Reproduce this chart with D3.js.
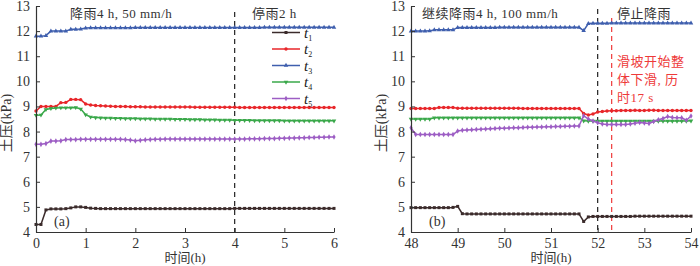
<!DOCTYPE html>
<html>
<head>
<meta charset="utf-8">
<script src="https://cdn.jsdelivr.net/npm/d3@7"></script>
<style>
  body { margin: 0; background: #fff; }
  svg text { font-family: "Liberation Serif", "Noto Sans CJK SC", serif; }
</style>
</head>
<body>
<svg id="chart"></svg>
<script>
// series names, colours of the picture
const seriesNames = ['1', '2', '3', '4', '5']
const seriesColors = ['#3b2b2b', '#e8262a', '#3f5fae', '#3aa84a', '#9d5ec4']

// panel (a): 0..6 h, read every 0.1 h
const timesA = d3.range(61).map(i => +(i * 0.1).toFixed(1))
const a_t1 = [4.30,4.30,4.88,4.92,4.92,4.92,4.93,4.96,5.00,5.00,
  4.98,4.95,4.94,4.93,4.93,4.93,4.93,4.93,4.93,4.93,
  4.93,4.93,4.93,4.93,4.93,4.93,4.93,4.93,4.93,4.93,
  4.93,4.93,4.93,4.93,4.93,4.93,4.93,4.93,4.93,4.93,
  4.94,4.94,4.94,4.94,4.94,4.94,4.94,4.94,4.94,4.94,
  4.94,4.94,4.94,4.94,4.94,4.94,4.94,4.94,4.94,4.94,4.94]
const a_t2 = [8.82,9.00,9.00,9.00,9.00,9.15,9.16,9.28,9.28,9.27,
  9.10,9.06,9.04,9.03,9.02,9.01,9.00,9.00,9.00,8.99,
  8.99,8.99,8.98,8.98,8.98,8.98,8.98,8.98,8.98,8.98,
  8.98,8.98,8.97,8.97,8.97,8.97,8.97,8.97,8.97,8.97,
  8.97,8.96,8.96,8.96,8.96,8.96,8.96,8.96,8.96,8.96,
  8.96,8.96,8.96,8.96,8.96,8.96,8.96,8.96,8.96,8.96,8.96]
const a_t3 = [11.80,11.80,11.82,12.00,12.00,12.00,12.00,12.07,12.07,12.08,
  12.12,12.13,12.13,12.13,12.13,12.13,12.13,12.13,12.13,12.13,
  12.14,12.14,12.14,12.14,12.14,12.14,12.14,12.14,12.14,12.14,
  12.14,12.14,12.14,12.14,12.14,12.14,12.14,12.14,12.14,12.14,
  12.14,12.14,12.14,12.14,12.14,12.14,12.15,12.15,12.15,12.15,
  12.15,12.15,12.15,12.15,12.15,12.15,12.15,12.15,12.15,12.15,12.15]
const a_t4 = [8.65,8.66,8.88,8.92,8.94,8.95,8.95,8.95,8.96,8.90,
  8.67,8.58,8.56,8.55,8.54,8.54,8.53,8.53,8.52,8.52,
  8.52,8.51,8.51,8.51,8.50,8.50,8.50,8.50,8.49,8.49,
  8.49,8.48,8.48,8.48,8.47,8.47,8.47,8.46,8.46,8.46,
  8.45,8.45,8.45,8.45,8.44,8.44,8.44,8.44,8.44,8.44,
  8.43,8.43,8.43,8.43,8.43,8.43,8.43,8.43,8.43,8.43,8.43]
const a_t5 = [7.49,7.49,7.52,7.62,7.62,7.63,7.68,7.68,7.68,7.69,
  7.69,7.69,7.69,7.69,7.69,7.69,7.69,7.69,7.68,7.66,
  7.63,7.65,7.67,7.68,7.69,7.69,7.70,7.70,7.70,7.70,
  7.70,7.70,7.70,7.70,7.70,7.70,7.70,7.70,7.70,7.70,
  7.70,7.70,7.70,7.71,7.71,7.71,7.72,7.72,7.72,7.73,
  7.73,7.74,7.74,7.75,7.75,7.76,7.76,7.77,7.77,7.78,7.78]

// panel (b): 48..54 h, read every 0.1 h
const timesB = d3.range(61).map(i => +(48 + i * 0.1).toFixed(1))
const b_t1 = [4.97,4.97,4.97,4.97,4.97,4.97,4.97,4.97,4.97,4.98,
  5.02,4.73,4.72,4.72,4.72,4.72,4.72,4.72,4.72,4.72,
  4.72,4.72,4.72,4.72,4.72,4.72,4.72,4.72,4.72,4.72,
  4.72,4.72,4.72,4.72,4.72,4.72,4.72,4.42,4.60,4.62,
  4.62,4.62,4.62,4.62,4.62,4.62,4.62,4.62,4.63,4.63,
  4.63,4.63,4.63,4.63,4.63,4.63,4.63,4.63,4.63,4.63,4.63]
const b_t2 = [8.92,8.92,8.92,8.92,8.92,8.92,8.96,8.96,8.96,8.96,
  8.93,8.93,8.93,8.93,8.93,8.93,8.93,8.93,8.93,8.93,
  8.93,8.93,8.93,8.93,8.92,8.92,8.92,8.92,8.92,8.92,
  8.92,8.92,8.92,8.92,8.92,8.92,8.92,8.72,8.66,8.70,
  8.78,8.80,8.82,8.83,8.83,8.84,8.84,8.84,8.85,8.84,
  8.84,8.85,8.85,8.84,8.84,8.84,8.84,8.84,8.84,8.84,8.84]
const b_t3 = [12.00,12.00,12.00,12.00,12.01,12.05,12.05,12.05,12.05,12.05,
  12.14,12.14,12.14,12.14,12.14,12.14,12.14,12.14,12.14,12.15,
  12.15,12.15,12.15,12.15,12.15,12.15,12.15,12.15,12.15,12.15,
  12.15,12.15,12.15,12.15,12.15,12.15,12.15,12.02,12.30,12.31,
  12.31,12.31,12.31,12.32,12.32,12.32,12.32,12.32,12.32,12.32,
  12.32,12.32,12.32,12.32,12.32,12.32,12.32,12.32,12.32,12.32,12.32]
const b_t4 = [8.50,8.50,8.50,8.50,8.50,8.55,8.55,8.55,8.55,8.55,
  8.55,8.55,8.55,8.55,8.55,8.55,8.55,8.55,8.55,8.55,
  8.55,8.55,8.55,8.55,8.55,8.55,8.55,8.55,8.55,8.55,
  8.55,8.55,8.55,8.55,8.55,8.55,8.55,8.43,8.42,8.42,
  8.42,8.42,8.42,8.42,8.42,8.42,8.42,8.42,8.42,8.42,
  8.42,8.42,8.42,8.42,8.42,8.42,8.42,8.42,8.42,8.42,8.43]
const b_t5 = [8.15,7.88,7.88,7.88,7.88,7.88,7.88,7.88,7.88,7.88,
  8.02,8.05,8.06,8.07,8.08,8.09,8.10,8.11,8.12,8.13,
  8.13,8.14,8.15,8.15,8.16,8.17,8.17,8.18,8.18,8.19,
  8.19,8.20,8.20,8.21,8.21,8.22,8.22,8.63,8.50,8.42,
  8.35,8.30,8.28,8.28,8.28,8.28,8.28,8.30,8.33,8.36,
  8.34,8.32,8.40,8.47,8.52,8.60,8.56,8.55,8.55,8.45,8.62]

const yTicks = [4, 5, 6, 7, 8, 9, 10, 11, 12, 13]

const svg = d3.select('svg#chart').attr('width', 700).attr('height', 266)
svg.append('rect').attr('width', 700).attr('height', 266).attr('fill', '#fff')

const symbols = [d3.symbolSquare, d3.symbolCircle, d3.symbolTriangle, d3.symbolTriangle, d3.symbolDiamond]

function drawPanel(opts) {
  const x = d3.scaleLinear().domain(opts.xDomain).range([opts.left, opts.right])
  const y = d3.scaleLinear().domain([4, 13]).range([232, 6])
  const g = svg.append('g')

  // vertical dashed markers
  opts.vlines.forEach(v => {
    g.append('line')
      .attr('x1', x(v.at)).attr('x2', x(v.at))
      .attr('y1', v.top).attr('y2', y(4))
      .attr('stroke', v.color).attr('stroke-width', 1.2)
      .attr('stroke-dasharray', '5,4')
  })

  const line = d3.line().x(d => x(d[0])).y(d => y(d[1]))
  opts.series.forEach((vals, k) => {
    const pts = opts.times.map((t, i) => [t, vals[i]])
    g.append('path').datum(pts)
      .attr('d', line).attr('fill', 'none')
      .attr('stroke', seriesColors[k]).attr('stroke-width', 1.5)
    g.selectAll(null).data(pts).join('path')
      .attr('transform', d => `translate(${x(d[0])},${y(d[1])})` + (k === 3 ? ' rotate(180)' : ''))
      .attr('d', d3.symbol(symbols[k], 9))
      .attr('fill', seriesColors[k])
  })

  const xAxis = g.append('g').attr('transform', `translate(0,${y(4)})`)
    .call(d3.axisBottom(x).tickValues(opts.xTicks).tickFormat(d3.format('d')).tickSize(-4).tickSizeOuter(0).tickPadding(6))
  const yAxis = g.append('g').attr('transform', `translate(${opts.left},0)`)
    .call(d3.axisLeft(y).tickValues(yTicks).tickFormat(d3.format('d')).tickSize(-4).tickSizeOuter(0).tickPadding(6))
  ;[xAxis, yAxis].forEach(ax => {
    ax.select('.domain').attr('stroke', '#333').attr('stroke-width', 1.2)
    ax.selectAll('.tick line').attr('stroke', '#333').attr('stroke-width', 1)
    ax.selectAll('.tick text').attr('font-size', 14).attr('fill', '#333')
      .style('font-family', '"Liberation Serif", serif')
  })

  g.append('text')
    .attr('transform', `translate(${opts.left - 25},123) rotate(-90)`)
    .attr('text-anchor', 'middle').attr('font-size', 14).attr('fill', '#333')
    .text('土压(kPa)')
  g.append('text')
    .attr('x', (opts.left + opts.right) / 2).attr('y', 262)
    .attr('text-anchor', 'middle').attr('font-size', 13).attr('fill', '#333')
    .text('时间(h)')
  g.append('text')
    .attr('x', opts.left + 18).attr('y', 226)
    .attr('font-size', 14).attr('fill', '#333')
    .text(opts.tag)

  opts.notes.forEach(n => {
    g.append('text').attr('x', n.x).attr('y', n.y)
      .attr('font-size', 13).attr('fill', n.color || '#333')
      .attr('letter-spacing', 0.5)
      .text(n.text)
  })
}

drawPanel({
  xDomain: [0, 6], left: 36, right: 334, times: timesA,
  xTicks: [0, 1, 2, 3, 4, 5, 6], tag: '(a)',
  series: [a_t1, a_t2, a_t3, a_t4, a_t5],
  vlines: [{at: 4, top: 12, color: '#222'}],
  notes: [
    {x: 70, y: 18, text: '降雨4 h, 50 mm/h'},
    {x: 252, y: 18, text: '停雨2 h'}
  ]
})

drawPanel({
  xDomain: [48, 54], left: 411, right: 691, times: timesB,
  xTicks: [48, 49, 50, 51, 52, 53, 54], tag: '(b)',
  series: [b_t1, b_t2, b_t3, b_t4, b_t5],
  vlines: [{at: 52, top: 9, color: '#222'}, {at: 52.3, top: 18, color: '#ee3a3a'}],
  notes: [
    {x: 422, y: 18, text: '继续降雨4 h, 100 mm/h'},
    {x: 617, y: 18, text: '停止降雨'},
    {x: 617, y: 66, text: '滑坡开始整', color: '#ee3a3a'},
    {x: 617, y: 84, text: '体下滑, 历', color: '#ee3a3a'},
    {x: 617, y: 102, text: '时17 s', color: '#ee3a3a'}
  ]
})

// legend in panel (a)
const legend = svg.append('g')
seriesNames.forEach((name, k) => {
  const ly = 32.5 + k * 16.5
  legend.append('line').attr('x1', 272).attr('x2', 300).attr('y1', ly).attr('y2', ly)
    .attr('stroke', seriesColors[k]).attr('stroke-width', 1.5)
  legend.append('path')
    .attr('transform', `translate(286,${ly})` + (k === 3 ? ' rotate(180)' : ''))
    .attr('d', d3.symbol(symbols[k], 9)).attr('fill', seriesColors[k])
  const t = legend.append('text').attr('x', 304).attr('y', ly + 5).attr('font-size', 15).attr('fill', '#222')
  t.append('tspan').attr('font-style', 'italic').text('t')
  t.append('tspan').attr('font-size', 8).attr('dy', 3).text(name)
})
</script>
</body>
</html>
